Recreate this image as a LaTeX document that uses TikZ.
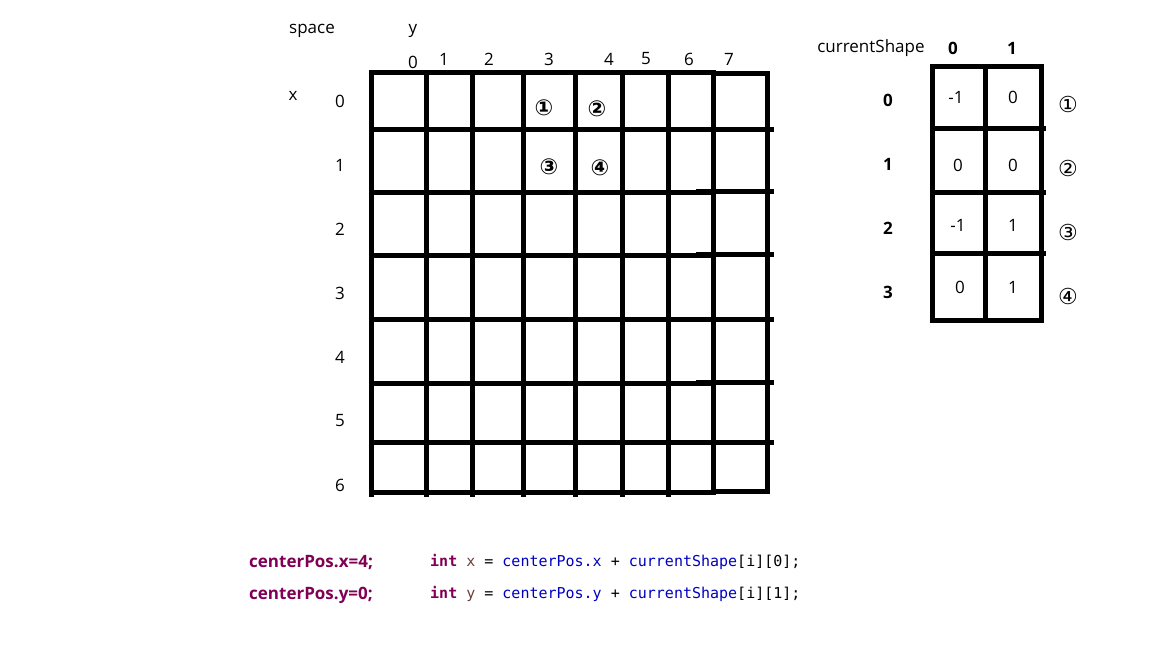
\documentclass[tikz,border=0pt]{standalone}
\usepackage{fontspec}
\setmainfont{Open Sans}
\newfontfamily\circfont{DejaVu Sans}
\newfontfamily\codefont{DejaVu Sans Mono}
\usepackage{xcolor}
\definecolor{kwpurple}{HTML}{7F0055}
\definecolor{fieldblue}{HTML}{0000C0}
\definecolor{varbrown}{HTML}{6A3E3E}
\usetikzlibrary{calc}
\usetikzlibrary{positioning}

\tikzset{
    gridline/.style={line width=5pt, line cap=rect},
    label/.style={font=\fontsize{17}{20}\selectfont, inner sep=0pt},
    boldlabel/.style={font=\fontsize{17}{20}\selectfont\bfseries, inner sep=0pt},
    cellnum/.style={font=\circfont\fontsize{22}{24}\selectfont\bfseries, inner sep=0pt},
    sidenum/.style={font=\circfont\fontsize{22}{24}\selectfont, inner sep=0pt},
    code/.style={font=\codefont\fontsize{15}{18}\selectfont, inner sep=0pt, anchor=base west}
}

\begin{document}
\begin{tikzpicture}[x=1pt, y=-1pt]
    \useasboundingbox (0,0) rectangle (1152,648);

    % space grid, columns 0..6
    \foreach \xx in {371,426,472,523,575,622,668} {
        \draw [gridline] (\xx,72) -- (\xx,494);
    }
    \foreach \yy in {72,129,192,255,319,383,442,492} {
        \draw [gridline] (371,\yy) -- (713,\yy);
    }
    % column 7 box
    \draw [gridline] (713,73) rectangle (767,491);
    \foreach \yy in {129,191,254,319,382,442} {
        \draw [gridline] (698,\yy) -- (771,\yy);
    }

    \node [label] (space) at (312,31) {space};
    \node [label] (ylabel) at (413,31) {y};
    \node [label] (xlabel) at (293,96) {x};
    \foreach \i/\xx/\yy in {0/413/62,1/444/59,2/489/59,3/549/59,4/609/59,5/646/59,6/689/59,7/729/59} {
        \node [label] (col\i) at (\xx,\yy) {\i};
    }
    \foreach \i in {0,...,6} {
        \node [label] (row\i) at (340,{101+64*\i}) {\i};
    }

    \node [cellnum] (c1) at (544,108) {①};
    \node [cellnum] (c2) at (597,109) {②};
    \node [cellnum] (c3) at (549,167) {③};
    \node [cellnum] (c4) at (600,168) {④};

    % currentShape table
    \draw [gridline] (932,66) rectangle (1041,320);
    \draw [gridline] (985,66) -- (985,320);
    \foreach \yy in {128,192,253} {
        \draw [gridline] (932,\yy) -- (1043,\yy);
    }

    \node [label] (shape) at (871,48) {currentShape};
    \node [boldlabel] (scol0) at (953,48) {0};
    \node [boldlabel] (scol1) at (1012,48) {1};
    \foreach \i in {0,...,3} {
        \node [boldlabel] (srow\i) at (888,{100+64*\i}) {\i};
    }
    \foreach \a/\b/\xx/\yy in {-1/0/956/97, 0/0/958/165, -1/1/958/225, 0/1/960/287} {
        \node [label] at (\xx,\yy) {\a};
        \node [label] at (1013,\yy) {\b};
    }
    \foreach \i/\s in {0/①,1/②,2/③,3/④} {
        \node [sidenum] (side\i) at (1068,{104+64*\i}) {\s};
    }

    % code lines
    \node [boldlabel, text=kwpurple, anchor=base west] (posx) at (249,567) {centerPos.x=4;};
    \node [boldlabel, text=kwpurple, anchor=base west] (posy) at (249,599) {centerPos.y=0;};
    \node [code] (codex) at (430,566) {\textcolor{kwpurple}{\bfseries int} \textcolor{varbrown}{x} = \textcolor{fieldblue}{centerPos.x} + \textcolor{fieldblue}{currentShape}[i][0];};
    \node [code] (codey) at (430,598) {\textcolor{kwpurple}{\bfseries int} \textcolor{varbrown}{y} = \textcolor{fieldblue}{centerPos.y} + \textcolor{fieldblue}{currentShape}[i][1];};
\end{tikzpicture}
\end{document}
